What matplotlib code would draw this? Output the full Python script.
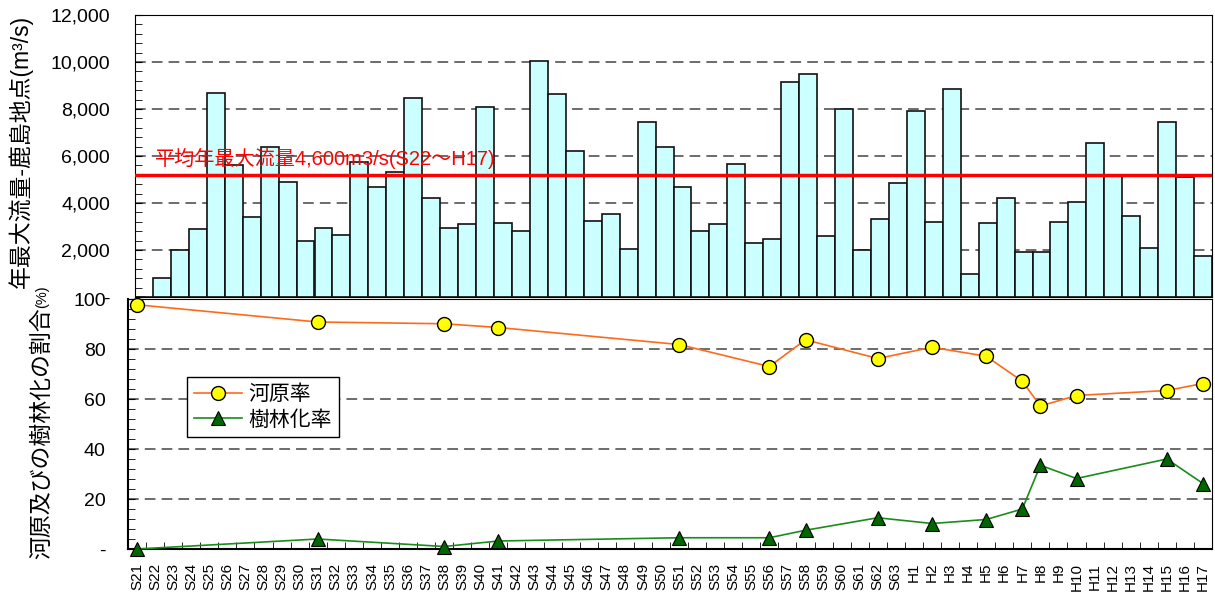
import numpy as np
import matplotlib
matplotlib.use("Agg")
import matplotlib.pyplot as plt
from matplotlib.ticker import FuncFormatter, MultipleLocator

plt.rcParams['font.family'] = ['Liberation Sans', 'Noto Sans CJK JP', 'DejaVu Sans']

# categories: S21..S63, H1..H17
years = [f"S{i}" for i in range(21, 64)] + [f"H{i}" for i in range(1, 18)]

# annual max flow at Kashima (m3/s)
max_flow = [0, 800, 2000, 2900, 8700, 5600, 3400, 6400, 4900, 2400,
            2950, 2650, 5750, 4700, 5300, 8450, 4200, 2950, 3100, 8100,
            3150, 2800, 10050, 8650, 6200, 3250, 3550, 2050, 7450, 6400,
            4700, 2800, 3100, 5650, 2300, 2450, 9150, 9500, 2600, 8000,
            2000, 3300, 4850, 7900, 3200, 8850, 1000, 3150, 4200, 1900,
            1900, 3200, 4050, 6550, 5200, 3450, 2100, 7450, 5100, 1750]
mean_flow = 5200
mean_label = "平均年最大流量4,600m3/s(S22～H17)"

# survey years for river-bed ratios (%)
survey_years = ["S21", "S31", "S38", "S41", "S51", "S56", "S58", "S62",
                "H2", "H5", "H7", "H8", "H10", "H15", "H17"]
kawara_rate = [97.7, 90.8, 90.1, 88.6, 81.8, 73.0, 83.7, 76.2,
               80.7, 77.1, 67.1, 57.2, 61.4, 63.4, 66.2]
jurin_rate = [0.0, 4.0, 1.0, 3.2, 4.5, 4.5, 7.5, 12.5,
              10.2, 11.8, 16.0, 33.5, 28.2, 36.0, 26.2]

W, H = 1215, 593
fig = plt.figure(figsize=(W / 100, H / 100), dpi=100)

x = np.arange(len(years))
sx = np.array([years.index(y) for y in survey_years])
grid_style = dict(color="#444444", linestyle=(0, (7, 4)), linewidth=1.1, zorder=1)

# ---- top: annual max flow bars
ax1 = fig.add_axes([135 / W, 1 - 297 / H, 1077 / W, 282 / H])
ax1.bar(x, max_flow, width=1.0, color="#CCFFFF", edgecolor="#111111", linewidth=1.2, zorder=2)
ax1.axhline(mean_flow, color="red", linewidth=2.5, zorder=3)
ax1.text(0.6, mean_flow + 230, mean_label, color="red", fontsize=14.5, va="bottom", ha="left", zorder=4)
ax1.set_xlim(-0.5, len(years) - 0.5)
ax1.set_ylim(0, 12000)
ax1.yaxis.set_major_locator(MultipleLocator(2000))
ax1.yaxis.set_minor_locator(MultipleLocator(400))
ax1.yaxis.set_major_formatter(FuncFormatter(lambda v, p: "-" if v == 0 else f"{int(v):,}"))
ax1.tick_params(axis="y", which="both", direction="in", length=5, labelsize=14, pad=18)
ax1.set_xticks([])
ax1.grid(axis="y", **grid_style)
ax1.set_axisbelow(True)
ax1.set_ylabel("年最大流量-鹿島地点(m³/s)", fontsize=16.5)
ax1.yaxis.set_label_coords(-0.095, 0.516)
for s in ax1.spines.values():
    s.set_color("black")

# ---- bottom: river-bed / forest ratio
ax2 = fig.add_axes([128 / W, 1 - 549 / H, 1084 / W, 250 / H])
ax2.plot(sx, kawara_rate, color="#FF6A1A", linewidth=1.2, marker="o", markersize=10,
         markerfacecolor="#FFFF00", markeredgecolor="black", markeredgewidth=1.0,
         label="河原率", clip_on=False, zorder=3)
ax2.plot(sx, jurin_rate, color="#1A8C1A", linewidth=1.2, marker="^", markersize=10,
         markerfacecolor="#006600", markeredgecolor="black", markeredgewidth=0.8,
         label="樹林化率", clip_on=False, zorder=3)
ax2.set_xlim(-0.5, len(years) - 0.5)
ax2.set_ylim(0, 100)
ax2.yaxis.set_major_locator(MultipleLocator(20))
ax2.yaxis.set_minor_locator(MultipleLocator(4))
ax2.yaxis.set_major_formatter(FuncFormatter(lambda v, p: "-" if v == 0 else f"{int(v)}"))
ax2.tick_params(axis="y", which="both", direction="in", length=5, labelsize=14, pad=16)
ax2.set_xticks(x)
ax2.set_xticklabels(years, rotation=90, fontsize=11)
ax2.set_xticks(np.arange(len(years) + 1) - 0.5, minor=True)
ax2.tick_params(axis="x", which="major", length=0, pad=10)
ax2.tick_params(axis="x", which="minor", direction="in", length=5)
ax2.grid(axis="y", **grid_style)
ax2.set_axisbelow(True)
ylab = ax2.text(-0.0793, 0.462, "河原及びの樹林化の割合", transform=ax2.transAxes,
                rotation=90, ha="center", va="center", fontsize=16.5)
ax2.annotate("(%)", xy=(0.5, 1.0), xycoords=ylab, rotation=90,
             ha="center", va="bottom", fontsize=10.5)
for s in ax2.spines.values():
    s.set_color("black")
ax2.spines["left"].set_linewidth(1.5)
ax2.spines["bottom"].set_linewidth(1.5)

leg = ax2.legend(loc="lower left", bbox_to_anchor=(0.054, 0.448), borderaxespad=0,
                 fontsize=15, fancybox=False, edgecolor="black", framealpha=1,
                 handlelength=2.3, handletextpad=0.3, borderpad=0.35, labelspacing=0.3)
leg.get_frame().set_linewidth(1.0)

fig.savefig("out.png", dpi=100)
